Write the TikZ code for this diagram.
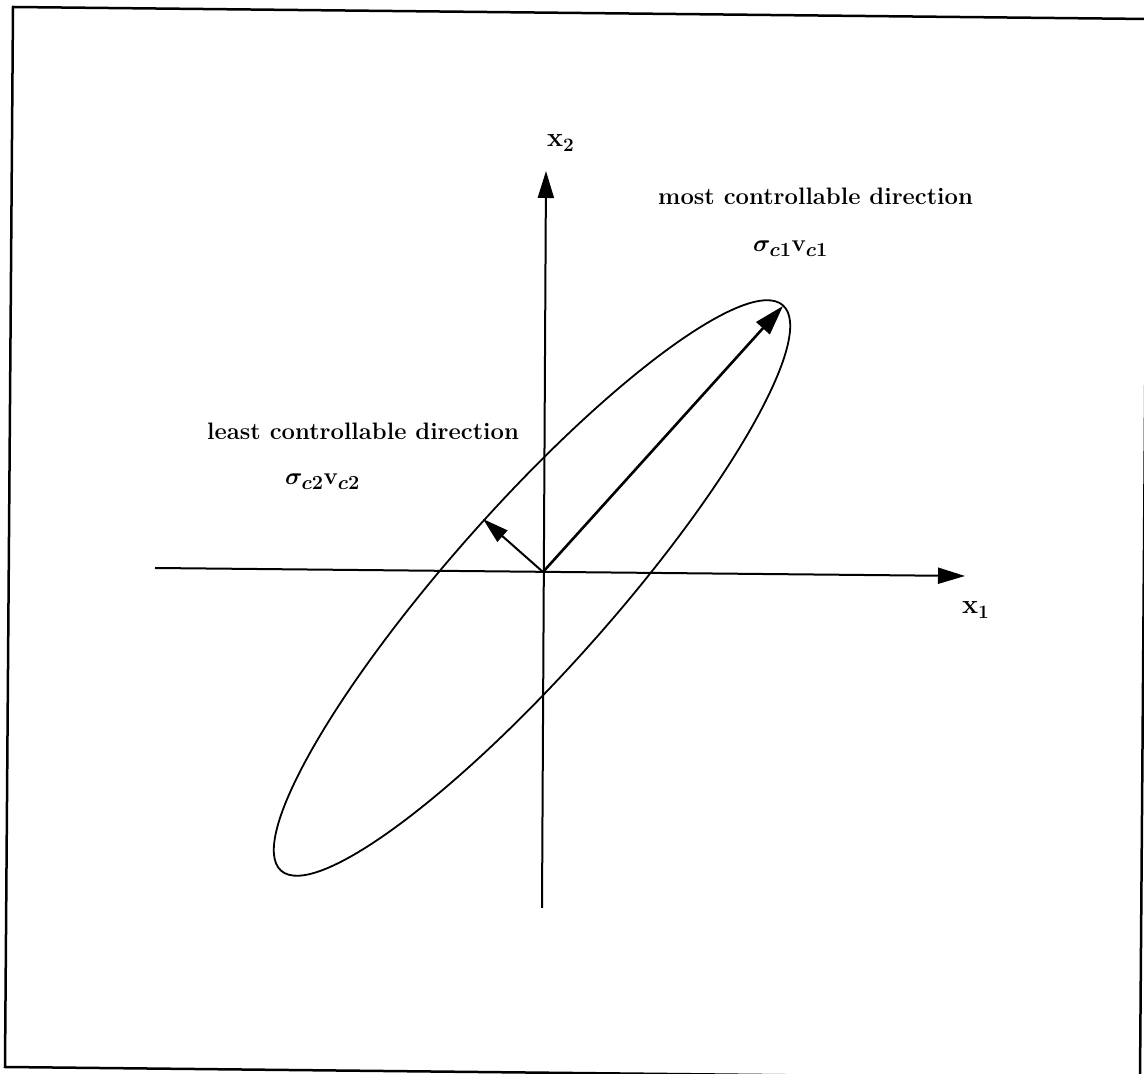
\RequirePackage{fix-cm}
\documentclass[tikz,border=0pt]{standalone}
\usetikzlibrary{arrows.meta}
\DeclareMathSizes{24}{24}{20}{16}
\DeclareMathSizes{27}{27}{19}{15}
\begin{document}
\begin{tikzpicture}[x=1pt,y=1pt,
  axis/.style={line width=2pt,-{Triangle[length=27pt,width=16pt]}},
  vec/.style={line width=2.6pt,-{Triangle[length=30pt,width=18pt]}},
  vecsmall/.style={line width=2pt,-{Triangle[length=26pt,width=15pt]}},
  lbl/.style={anchor=base west,inner sep=0pt,font=\fontsize{23.8}{28}\selectfont\bfseries},
  mlbl/.style={anchor=base west,inner sep=0pt,font=\fontsize{24}{28}\selectfont\boldmath},
  axlbl/.style={anchor=base west,inner sep=0pt,font=\fontsize{27}{30}\selectfont}]
\useasboundingbox (0,0) rectangle (1144,1074);
\clip (0,0) rectangle (1144,1074);
\fill[white] (0,0) rectangle (1144,1074);
% frame (slightly skewed scan)
\draw[line width=2.5pt] (13,1067) -- (1148,1055) -- (1140,-5) -- (5,7) -- cycle;
% coordinates
\coordinate (O) at (543,502);
\coordinate (xl) at (155,506);
\coordinate (xr) at (965,498);
\coordinate (yb) at (542,166);
\coordinate (yt) at (546,903);
\coordinate (t1) at (783,768);
\coordinate (t2) at (483,555);
% ellipse
\draw[line width=1.8pt] (532,486) ellipse[x radius=378, y radius=81, rotate=48.4];
% axes
\draw[axis] (xl) -- (xr);
\draw[axis] (yb) -- (yt);
% vectors
\draw[vec] (O) -- (t1);
\draw[vecsmall] (O) -- (t2);
% labels
\node[axlbl] (lx2) at (547,927) {$\mathbf{x}_{\mathbf{2}}$};
\node[axlbl] (lx1) at (962,460) {$\mathbf{x}_{\mathbf{1}}$};
\node[lbl] (most) at (658,869) {most controllable direction};
\node[mlbl] (s1) at (753,822) {$\sigma_{c1}\mathbf{v}_{c1}$};
\node[lbl] (least) at (207,634) {least controllable direction};
\node[mlbl] (s2) at (285,589) {$\sigma_{c2}\mathbf{v}_{c2}$};
\end{tikzpicture}
\end{document}
